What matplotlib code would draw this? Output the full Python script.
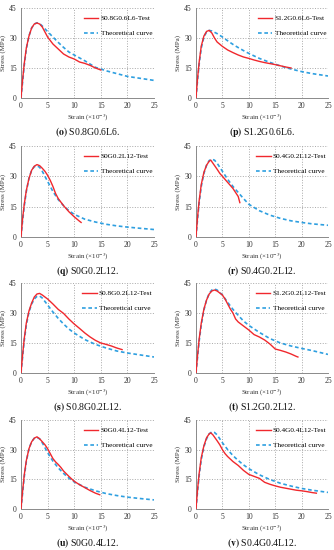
import matplotlib
matplotlib.use("Agg")
import matplotlib.pyplot as plt

plt.rcParams["font.family"] = ["Liberation Serif", "DejaVu Serif"]
plt.rcParams["mathtext.fontset"] = "stix"

RED = "#f0282d"
BLUE = "#2e9fe0"
GRID = "#a8a8a8"

# ── data (strain ×10^-3, stress MPa) ─────────────────────
o_test_x = [0, 0.3, 0.6, 1, 1.5, 2, 2.5, 3, 3.5, 4, 4.5, 5, 6, 7, 8, 9, 10, 11, 12, 13, 14, 15]
o_test_y = [0, 9, 17, 25, 31, 35, 37, 37.5, 37, 35.5, 33, 30.5, 27, 24.5, 22, 20.5, 19.5, 18, 17.3, 16.3, 15, 14]
o_theo_x = [0, 0.3, 0.6, 1, 1.5, 2, 2.5, 3, 3.5, 4, 5, 6, 7, 8, 9, 10, 12, 14, 15, 16, 18, 20, 22, 25]
o_theo_y = [0, 8, 16, 24.5, 31, 35, 37, 37.6, 37.2, 36, 33.2, 30.5, 27.8, 25.3, 23, 21.5, 18.6, 15.3, 14.5, 13.6, 12.2, 10.8, 10, 8.8]

p_test_x = [0, 0.3, 0.6, 1, 1.5, 2, 2.5, 3, 3.5, 4, 5, 6, 7, 8, 9, 10, 11, 12, 13, 14, 15, 16, 17, 18]
p_test_y = [0, 10, 18, 26, 31, 33.3, 33.8, 32.5, 30, 28, 25.8, 24, 22.7, 21.5, 20.5, 19.8, 19, 18.3, 17.7, 17.2, 16.7, 16.1, 15.5, 15]
p_theo_x = [0, 0.3, 0.6, 1, 1.5, 2, 2.5, 3, 4, 5, 6, 7, 8, 9, 10, 12, 14, 16, 18, 20, 22, 25]
p_theo_y = [0, 9, 17, 25, 30.5, 33, 33.8, 33.5, 32.2, 30.5, 28.6, 26.8, 25.2, 23.7, 22.3, 19.8, 17.8, 16, 14.5, 13.2, 12.2, 11]

q_test_x = [0, 0.3, 0.6, 1, 1.5, 2, 2.5, 3, 3.5, 4, 4.5, 5, 5.5, 6, 6.5, 7, 8, 9, 10, 11, 11.3]
q_test_y = [0, 9, 16, 23, 29, 33, 35, 35.8, 35.3, 34, 32.5, 30.5, 28, 25, 21.5, 19, 15.5, 12.5, 10, 7.8, 7.2]
q_theo_x = [0, 0.3, 0.6, 1, 1.5, 2, 2.5, 3, 3.5, 4, 5, 6, 7, 8, 9, 10, 12, 14, 16, 18, 20, 22, 25]
q_theo_y = [0, 8, 15, 22.5, 29, 33, 34.8, 35.2, 34.5, 32.5, 27.5, 22.5, 18.5, 15.5, 13, 11.2, 8.8, 7.4, 6.3, 5.5, 4.9, 4.4, 3.7]

r_test_x = [0, 0.3, 0.6, 1, 1.5, 2, 2.5, 2.8, 3.2, 3.6, 4, 4.5, 5, 5.5, 6, 6.5, 7, 7.5, 8, 8.3]
r_test_y = [0, 10, 18, 26, 32, 35.5, 37.5, 38, 36.5, 35, 33.5, 31.5, 30, 28.5, 27, 25.5, 24, 22, 20, 17]
r_theo_x = [0, 0.3, 0.6, 1, 1.5, 2, 2.5, 3, 3.5, 4, 5, 6, 7, 8, 9, 10, 12, 14, 16, 18, 20, 22, 25]
r_theo_y = [0, 9, 17, 25, 31.5, 35.5, 37.8, 38.5, 38, 36.5, 32.5, 28.5, 25, 22, 19, 16.2, 13, 10.8, 9.2, 8, 7.2, 6.5, 5.8]

s_test_x = [0, 0.3, 0.6, 1, 1.5, 2, 2.5, 3, 3.5, 4, 4.5, 5, 6, 7, 8, 9, 10, 11, 12, 13, 14, 15, 16, 17, 18, 19]
s_test_y = [0, 9, 17, 25, 31, 35, 38, 39.5, 39.8, 39, 38, 37, 34.5, 31.8, 29.8, 27, 24.5, 22.3, 20, 18, 16.3, 15, 14.3, 13.5, 12.5, 11.7]
s_theo_x = [0, 0.3, 0.6, 1, 1.5, 2, 2.5, 3, 3.5, 4, 5, 6, 7, 8, 9, 10, 12, 14, 16, 18, 20, 22, 25]
s_theo_y = [0, 8, 16, 24, 30.5, 34.5, 37, 38.3, 38.5, 37.5, 34, 30.5, 27.3, 24.5, 22, 20, 16.7, 14.3, 12.5, 11, 10, 9.2, 8]

t_test_x = [0, 0.3, 0.6, 1, 1.5, 2, 2.5, 3, 3.5, 4, 4.5, 5, 5.5, 6, 6.5, 7, 7.5, 8, 9, 10, 11, 12, 13, 14, 15, 16, 17, 18, 19, 19.3]
t_test_y = [0, 9, 17, 25, 32, 36.5, 39.5, 41, 41.5, 41, 40, 39, 37, 34.5, 32, 30, 27, 25.5, 23.5, 21.5, 19.2, 18, 16.5, 14.5, 12, 11.3, 10.5, 9.5, 8.3, 8]
t_theo_x = [0, 0.3, 0.6, 1, 1.5, 2, 2.5, 3, 3.5, 4, 5, 6, 7, 8, 9, 10, 12, 14, 16, 18, 20, 22, 25]
t_theo_y = [0, 8, 16, 24, 31.5, 36.5, 39.8, 41.5, 42, 41.5, 39, 35.3, 31.8, 28.8, 26, 23.8, 20.3, 17.2, 15, 13.5, 12.3, 11.2, 9.3]

u_test_x = [0, 0.3, 0.6, 1, 1.5, 2, 2.5, 3, 3.5, 4, 4.5, 5, 5.5, 6, 6.5, 7, 7.5, 8, 9, 10, 11, 12, 13, 14, 14.8]
u_test_y = [0, 9, 17, 24.5, 30.5, 34, 35.8, 36.5, 35.5, 34, 32.5, 30.5, 28, 25.5, 23.8, 22.5, 21, 19.2, 16.5, 14, 12.3, 10.8, 9.3, 8, 7.2]
u_theo_x = [0, 0.3, 0.6, 1, 1.5, 2, 2.5, 3, 3.5, 4, 5, 6, 7, 8, 9, 10, 12, 14, 16, 18, 20, 22, 25]
u_theo_y = [0, 8, 16, 24, 30.5, 34, 35.8, 36.2, 35.5, 33.5, 28.5, 24.2, 20.8, 18, 15.6, 13.7, 11, 9.2, 7.8, 6.8, 6, 5.4, 4.6]

v_test_x = [0, 0.3, 0.6, 1, 1.5, 2, 2.5, 2.8, 3.2, 3.6, 4, 4.5, 5, 5.5, 6, 7, 8, 9, 10, 11, 12, 13, 14, 15, 16, 17, 18, 19, 20, 21, 22, 22.8]
v_test_y = [0, 10, 18, 26, 32, 36, 38, 38.5, 37.5, 36, 34.5, 32.5, 30, 28, 26.5, 24, 22, 19.5, 17.5, 16.5, 15.5, 13.5, 12.5, 11.7, 11, 10.5, 10, 9.5, 9.2, 8.8, 8.3, 8]
v_theo_x = [0, 0.3, 0.6, 1, 1.5, 2, 2.5, 3, 3.5, 4, 5, 6, 7, 8, 9, 10, 12, 14, 16, 18, 20, 22, 25]
v_theo_y = [0, 9, 17, 25, 31.5, 35.5, 38, 39, 38.7, 37.5, 33.5, 30, 27, 24.5, 22.3, 20.4, 17.3, 14.9, 13, 11.6, 10.4, 9.5, 8.4]

panels = [
    ("o", "S0.8G0.6L6", o_test_x, o_test_y, o_theo_x, o_theo_y),
    ("p", "S1.2G0.6L6", p_test_x, p_test_y, p_theo_x, p_theo_y),
    ("q", "S0G0.2L12", q_test_x, q_test_y, q_theo_x, q_theo_y),
    ("r", "S0.4G0.2L12", r_test_x, r_test_y, r_theo_x, r_theo_y),
    ("s", "S0.8G0.2L12", s_test_x, s_test_y, s_theo_x, s_theo_y),
    ("t", "S1.2G0.2L12", t_test_x, t_test_y, t_theo_x, t_theo_y),
    ("u", "S0G0.4L12", u_test_x, u_test_y, u_theo_x, u_theo_y),
    ("v", "S0.4G0.4L12", v_test_x, v_test_y, v_theo_x, v_theo_y),
]

# ── layout (pixels → figure fraction) ────────────────────
W, H = 334, 550
fig = plt.figure(figsize=(W / 100, H / 100), dpi=100)
fig.patch.set_facecolor("white")

cols = [(21, 154), (196, 328)]
rows = [(8, 98), (146, 237), (283, 373), (420, 509)]

for i, (tag, name, tx, ty, hx, hy) in enumerate(panels):
    (x0, x1), (y0, y1) = cols[i % 2], rows[i // 2]
    ax = fig.add_axes([x0 / W, 1 - y1 / H, (x1 - x0) / W, (y1 - y0) / H])
    ax.plot(tx, ty, color=RED, lw=1.0, label=f"{name}-Test", zorder=3)
    ax.plot(hx, hy, color=BLUE, lw=1.2, ls=(0, (2.2, 1.6)),
            label="Theoretical curve", zorder=2)
    ax.set_xlim(0, 25)
    ax.set_ylim(0, 45)
    ax.set_xticks([0, 5, 10, 15, 20, 25])
    ax.set_yticks([0, 15, 30, 45])
    ax.grid(color=GRID, ls=":", lw=0.7)
    for side in ("top", "right"):
        ax.spines[side].set_visible(False)
    for side in ("left", "bottom"):
        ax.spines[side].set_color("#8a8a8a")
        ax.spines[side].set_linewidth(0.7)
    ax.tick_params(length=0, labelsize=5.5, colors="#333333", pad=3)
    ax.set_xlabel(r"Strain (×10$^{-3}$)", fontsize=5, color="#333333", labelpad=1.5)
    ax.set_ylabel("Stress (MPa)", fontsize=5, color="#333333", labelpad=2)
    ax.legend(loc="upper right", frameon=False, fontsize=5.2, handlelength=2.0,
              handletextpad=0.3, labelspacing=1.25, borderaxespad=0.4,
              bbox_to_anchor=(1.03, 0.985))
    fig.text((x0 + x1) / 2 / W, 1 - (y1 + 34) / H,
             r"$\mathbf{(" + tag + r")}$ " + name + ".",
             ha="center", va="center", fontsize=7, color="#111111")

fig.savefig("out.png", dpi=100, facecolor="white")
